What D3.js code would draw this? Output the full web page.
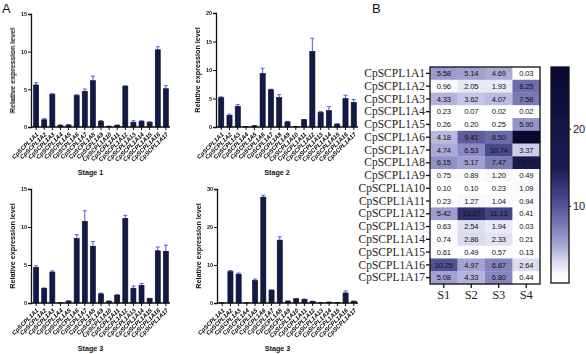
<html>
  <head>
    <style>
      body { margin: 0; background: #fff; color: #000; }
      svg  { display: block; }
    </style>
  </head>
  <body>
    <svg width="586" height="354"></svg>
    <script src="https://d3js.org/d3.v7.min.js"></script>
    <script>
      // genes and values (error bars estimated from the bar plots)
      var genes = d3.range(1, 18).map(function(i) { return "CpSCPL1A" + i; });
      var stages = ["S1", "S2", "S3", "S4"];
      var s1 = [5.58, 0.96, 4.33, 0.23, 0.26, 4.18, 4.74, 6.15, 0.75, 0.10, 0.23, 5.42, 0.63, 0.74, 0.61, 10.25, 5.08];
      var s2 = [5.14, 2.05, 3.62, 0.07, 0.20, 9.41, 6.53, 5.17, 0.89, 0.10, 1.27, 13.27, 2.54, 2.86, 0.49, 4.97, 4.33];
      var s3 = [4.69, 1.93, 4.07, 0.02, 0.25, 8.50, 10.74, 7.47, 1.20, 0.23, 1.04, 11.13, 1.94, 2.33, 0.57, 6.87, 6.80];
      var s4 = [0.03, 8.25, 7.58, 0.02, 5.90, 27.86, 3.37, 16.54, 0.49, 1.09, 0.94, 0.41, 0.03, 0.21, 0.13, 2.64, 0.44];
      var e1 = [0.3, 0.15, 0.1, 0.05, 0.05, 0.1, 0.3, 0.6, 0.1, 0.02, 0.05, 0.05, 0.2, 0.1, 0.1, 0.4, 0.4];
      var e2 = [0.15, 0.2, 0.3, 0.02, 0.05, 0.9, 0.1, 0.5, 0.1, 0.02, 0.05, 2.3, 0.2, 0.7, 0.1, 0.6, 0.5];
      var e3 = [0.2, 0.05, 0.15, 0.02, 0.05, 0.5, 1.4, 0.6, 0.1, 0.05, 0.05, 0.4, 0.3, 0.25, 0.05, 0.5, 0.8];
      var e4 = [0, 0.3, 0.3, 0, 0.4, 0.5, 0.1, 0.9, 0.05, 0.1, 0.1, 0.05, 0.02, 0.05, 0.02, 0.5, 0.1];
      var yMax = [15, 20, 15, 30];
      var yTicks = [[0, 5, 10, 15], [0, 5, 10, 15, 20], [0, 5, 10, 15], [0, 10, 20, 30]];
      var titles = ["Stage 1", "Stage 2", "Stage 3", "Stage 3"];
      var cbTicks = [10, 20];

      var svg = d3.select("svg");
      var defs = svg.append("defs");
      // grey filter keeps the tiny labels from picking up coloured fringes
      defs.append("filter").attr("id", "grey")
          .append("feColorMatrix").attr("type", "saturate").attr("values", 0);
      svg.append("rect").attr("width", 586).attr("height", 354).attr("fill", "#fff");

      svg.append("text").attr("x", 2).attr("y", 13).text("A").attr("fill", "#111")
          .style("font", "13px 'Liberation Sans', Arial, sans-serif");
      svg.append("text").attr("x", 372).attr("y", 13).text("B").attr("fill", "#111")
          .style("font", "13px 'Liberation Sans', Arial, sans-serif");

      // ---- bar panels ----
      var panels = [
        {x0: 31, x1: 170, top: 14, bottom: 127, vals: s1, errs: e1},
        {x0: 216, x1: 358, top: 13, bottom: 127, vals: s2, errs: e2},
        {x0: 31, x1: 170, top: 189, bottom: 303, vals: s3, errs: e3},
        {x0: 217, x1: 358, top: 189, bottom: 303, vals: s4, errs: e4}
      ];

      panels.forEach(function(p, k) {
        var x = d3.scaleBand().domain(genes).range([p.x0 + 1, p.x1]).paddingInner(0.38).paddingOuter(0.2);
        var y = d3.scaleLinear().domain([0, yMax[k]]).range([p.bottom, p.top]);
        var g = svg.append("g");

        // error bars (drawn first, bar covers the lower half)
        var eg = g.selectAll(".err").data(p.vals).enter().append("g");
        eg.append("line")
            .attr("x1", function(d, i) { return x(genes[i]) + x.bandwidth() / 2; })
            .attr("x2", function(d, i) { return x(genes[i]) + x.bandwidth() / 2; })
            .attr("y1", function(d) { return y(d); })
            .attr("y2", function(d, i) { return y(d + p.errs[i]); })
            .attr("stroke", "#5a5ad6").attr("stroke-width", 1);
        eg.append("line")
            .attr("x1", function(d, i) { return x(genes[i]) + x.bandwidth() / 2 - 2; })
            .attr("x2", function(d, i) { return x(genes[i]) + x.bandwidth() / 2 + 2; })
            .attr("y1", function(d, i) { return y(d + p.errs[i]); })
            .attr("y2", function(d, i) { return y(d + p.errs[i]); })
            .attr("stroke", "#5a5ad6").attr("stroke-width", 1);

        g.selectAll(".bar").data(p.vals).enter().append("rect")
            .attr("x", function(d, i) { return x(genes[i]); })
            .attr("width", x.bandwidth())
            .attr("y", function(d) { return y(d); })
            .attr("height", function(d) { return p.bottom - y(d); })
            .attr("fill", "#121a4a").attr("stroke", "#050820").attr("stroke-width", 0.6);

        var ya = g.append("g").attr("transform", "translate(" + p.x0 + ",0)")
            .attr("filter", "url(#grey)")
            .call(d3.axisLeft(y).tickValues(yTicks[k]).tickSize(3).tickPadding(1));
        ya.select(".domain").attr("stroke-width", 1.3).attr("stroke", "#111");
        ya.selectAll("line").attr("stroke", "#111");
        ya.selectAll("text").attr("fill", "#111")
            .style("font", "bold 5.5px 'Liberation Sans', Arial, sans-serif");

        var xa = g.append("g").attr("transform", "translate(0," + p.bottom + ")")
            .attr("filter", "url(#grey)")
            .call(d3.axisBottom(x).tickSize(3).tickSizeOuter(0).tickPadding(2));
        xa.select(".domain").attr("stroke-width", 1.3).attr("stroke", "#111")
            .attr("d", "M" + p.x0 + ",0H" + p.x1);
        xa.selectAll("line").attr("stroke", "#111");
        xa.selectAll("text")
            .attr("fill", "#000")
            .style("font", "bold italic 6px 'Liberation Sans', Arial, sans-serif")
            .attr("text-anchor", "end")
            .attr("dy", "0.3em")
            .attr("transform", "translate(-2,3) rotate(-45)");

        g.append("text")
            .attr("transform", "translate(" + (p.x0 - 16) + "," + ((p.top + p.bottom) / 2) + ") rotate(-90)")
            .attr("text-anchor", "middle")
            .attr("fill", "#111")
            .attr("filter", "url(#grey)")
            .style("font", "bold 7.2px 'Liberation Sans', Arial, sans-serif")
            .text("Relative expression level");

        g.append("text")
            .attr("x", (p.x0 + p.x1) / 2 - 10).attr("y", p.bottom + 48)
            .attr("text-anchor", "middle")
            .attr("fill", "#111")
            .style("font", "bold 7.2px 'Liberation Sans', Arial, sans-serif")
            .text(titles[k]);
      });

      // ---- heat map ----
      var hm = {left: 430, right: 540, top: 67, bottom: 284};
      var cols = [s1, s2, s3, s4];
      var hx = d3.scaleBand().domain(stages).range([hm.left, hm.right]);
      var hy = d3.scaleBand().domain(genes).range([hm.top, hm.bottom]);
      var color = d3.scaleLinear()
          .domain([0, 1, 3, 5, 8, 11, 15, 28])
          .range(["#ffffff", "#fbfbfe", "#d6d6ee", "#a3a3d2", "#7272b0", "#45458a", "#1c1c55", "#080830"])
          .clamp(true);

      var cells = [];
      cols.forEach(function(c, j) {
        c.forEach(function(v, i) { cells.push({s: stages[j], g: genes[i], v: v}); });
      });
      var hg = svg.append("g");
      hg.selectAll("rect").data(cells).enter().append("rect")
          .attr("x", function(d) { return hx(d.s); })
          .attr("y", function(d) { return hy(d.g); })
          .attr("width", hx.bandwidth() + 0.3)
          .attr("height", hy.bandwidth() + 0.3)
          .attr("fill", function(d) { return color(d.v); });
      hg.selectAll("text").data(cells).enter().append("text")
          .attr("x", function(d) { return hx(d.s) + hx.bandwidth() / 2; })
          .attr("y", function(d) { return hy(d.g) + hy.bandwidth() / 2; })
          .attr("dy", "0.35em")
          .attr("text-anchor", "middle")
          .style("font", "7.6px 'Liberation Sans', Arial, sans-serif")
          .style("letter-spacing", "-0.2px")
          .attr("fill", "#111")
          .text(function(d) { return d.v.toFixed(2); });
      hg.append("rect")
          .attr("x", hm.left).attr("y", hm.top)
          .attr("width", hm.right - hm.left).attr("height", hm.bottom - hm.top)
          .attr("fill", "none").attr("stroke", "#111").attr("stroke-width", 1.3);

      var ha = hg.append("g").attr("transform", "translate(" + hm.left + ",0)")
          .call(d3.axisLeft(hy).tickSize(4).tickPadding(1));
      ha.select(".domain").remove();
      ha.selectAll("line").attr("stroke-width", 1.3).attr("stroke", "#111");
      ha.selectAll("text").style("font", "11.5px 'Liberation Serif', 'Times New Roman', serif").attr("fill", "#222");

      var hb = hg.append("g").attr("transform", "translate(0," + hm.bottom + ")")
          .call(d3.axisBottom(hx).tickSize(4).tickPadding(2));
      hb.select(".domain").remove();
      hb.selectAll("line").attr("stroke-width", 1.3).attr("stroke", "#111");
      hb.selectAll("text").style("font", "12.5px 'Liberation Serif', 'Times New Roman', serif").attr("fill", "#222");

      // ---- colour bar ----
      var cb = {left: 551, right: 569, top: 67, bottom: 283};
      var cy = d3.scaleLinear().domain([0, 28]).range([cb.bottom, cb.top]);
      var grad = defs.append("linearGradient")
          .attr("id", "cbgrad").attr("x1", 0).attr("y1", 1).attr("x2", 0).attr("y2", 0);
      grad.selectAll("stop").data(d3.range(0, 28.01, 0.5)).enter().append("stop")
          .attr("offset", function(d) { return d / 28; })
          .attr("stop-color", function(d) { return color(d); });
      svg.append("rect")
          .attr("x", cb.left).attr("y", cb.top)
          .attr("width", cb.right - cb.left).attr("height", cb.bottom - cb.top)
          .attr("fill", "url(#cbgrad)").attr("stroke", "#111").attr("stroke-width", 1.3);
      var ca = svg.append("g").attr("transform", "translate(" + cb.right + ",0)")
          .call(d3.axisRight(cy).tickValues(cbTicks).tickSize(2).tickPadding(2));
      ca.select(".domain").remove();
      ca.selectAll("line").attr("stroke", "#111");
      ca.selectAll("text").style("font", "11px 'Liberation Sans', Arial, sans-serif").attr("fill", "#222");
    </script>
  </body>
</html>
